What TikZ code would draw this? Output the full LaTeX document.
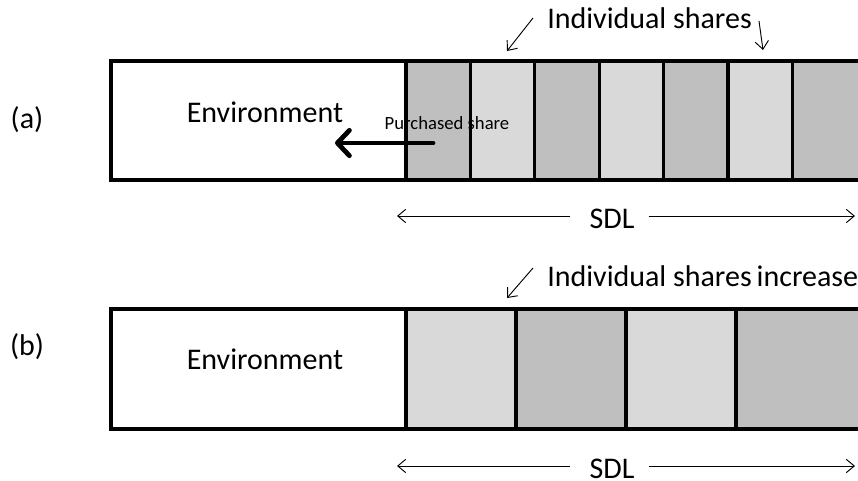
\documentclass[tikz,border=0pt]{standalone}
\usepackage{fontspec}
\setmainfont{Carlito}
\usetikzlibrary{arrows.meta}
\definecolor{lightc}{HTML}{D9D9D9}
\definecolor{darkc}{HTML}{BFBFBF}
\begin{document}
\begin{tikzpicture}[x=0.75pt,y=-0.75pt,
  border/.style={draw=black,line width=2.4pt},
  lbl/.style={font=\fontsize{22.5}{27}\selectfont, inner sep=0pt, anchor=base},
  smalllbl/.style={font=\fontsize{14}{16}\selectfont, inner sep=0pt, anchor=base},
  thinarrow/.style={line width=0.7pt, -{Straight Barb[length=6pt,width=10pt]}},
  thickarrow/.style={line width=3.6pt, line cap=round, -{Straight Barb[length=9pt,width=19pt,line cap=round,line join=round]}},
  dimline/.style={line width=0.7pt, -{Straight Barb[length=6pt,width=10pt]}}]
\useasboundingbox (0,0) rectangle (858,481);

% ---------- panel (a) ----------
\fill[white] (111,61) rectangle (406,180);
\foreach \i/\c in {0/darkc,1/lightc,2/darkc,3/lightc,4/darkc,5/lightc}{
  \fill[\c] ({406+64.4*\i},61) rectangle ({406+64.4*(\i+1)},180);
}
\fill[darkc] ({406+64.4*6},61) rectangle (900,180);
\node[smalllbl] (purch) at (447,130) {Purchased share};
\draw[border] (111,61) rectangle (870,180);
\foreach \i in {0,...,6}{
  \draw[border] ({406+64.4*\i},61) -- ({406+64.4*\i},180);
}
\node[lbl] (la) at (27,129) {(a)};
\node[lbl] (enva) at (265,123) {Environment};
\coordinate (purchstart) at (433,143);
\coordinate (purchend) at (335,143);
\draw[thickarrow] (purchstart) -- (purchend);

\node[lbl, anchor=base west] (inda) at (547,29) {Individual shares};
\coordinate (ia1s) at (533,18);
\coordinate (ia1e) at (507,51);
\coordinate (ia2s) at (759,21);
\coordinate (ia2e) at (763,50);
\draw[thinarrow] (ia1s) -- (ia1e);
\draw[thinarrow] (ia2s) -- (ia2e);

\node[lbl] (sdla) at (612,229) {SDL};
\coordinate (sdlal) at (397,216);
\coordinate (sdlar) at (855,216);
\draw[dimline] (sdla.west |- sdlal) ++(-19,0) -- (sdlal);
\draw[dimline] (sdla.east |- sdlar) ++(14,0) -- (sdlar);

% ---------- panel (b) ----------
\fill[white] (111,309) rectangle (406,429);
\foreach \i/\c in {0/lightc,1/darkc,2/lightc}{
  \fill[\c] ({406+110*\i},309) rectangle ({406+110*(\i+1)},429);
}
\fill[darkc] (736,309) rectangle (900,429);
\draw[border] (111,309) rectangle (900,429);
\foreach \i in {0,...,3}{
  \draw[border] ({406+110*\i},309) -- ({406+110*\i},429);
}
\node[lbl] (lb) at (27,355) {(b)};
\node[lbl] (envb) at (265,370) {Environment};

\node[lbl, anchor=base west] (indb) at (547,287) {Individual shares\,increase};
\coordinate (ib1s) at (533,268);
\coordinate (ib1e) at (507,298);
\draw[thinarrow] (ib1s) -- (ib1e);

\node[lbl] (sdlb) at (612,479) {SDL};
\coordinate (sdlbl) at (397,466);
\coordinate (sdlbr) at (855,466);
\draw[dimline] (sdlb.west |- sdlbl) ++(-19,0) -- (sdlbl);
\draw[dimline] (sdlb.east |- sdlbr) ++(14,0) -- (sdlbr);
\end{tikzpicture}
\end{document}
